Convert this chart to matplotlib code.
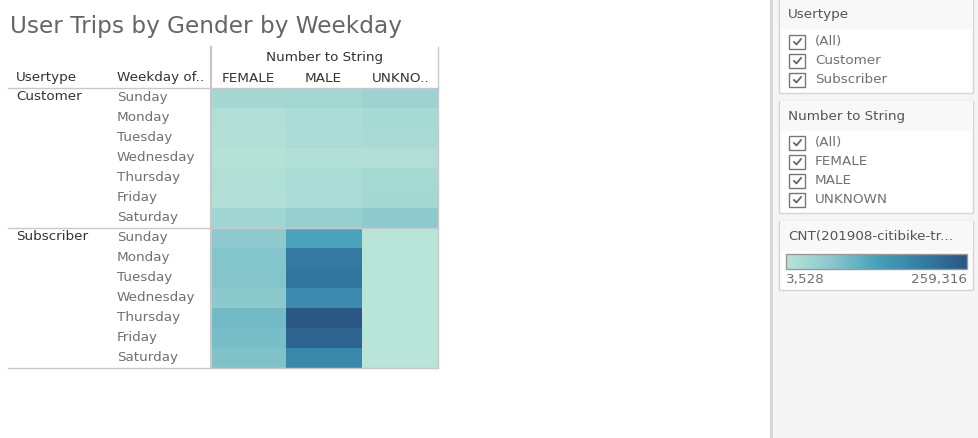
import numpy as np
import matplotlib
matplotlib.use("Agg")
import matplotlib.pyplot as plt
from matplotlib.colors import LinearSegmentedColormap
from matplotlib.patches import Rectangle

plt.rcParams['font.family'] = ['DejaVu Sans']

usertypes = ['Customer', 'Subscriber']
weekdays = ['Sunday', 'Monday', 'Tuesday', 'Wednesday', 'Thursday', 'Friday', 'Saturday']
genders = ['FEMALE', 'MALE', 'UNKNO..']

# trip counts
customer_female = [30000, 15000, 12000, 9000, 16000, 13000, 38000]
customer_male = [32000, 22000, 22000, 13000, 24000, 22000, 50000]
customer_unknown = [42000, 26000, 25000, 14000, 28000, 31000, 62000]
subscriber_female = [58000, 72000, 72000, 63000, 90000, 84000, 76000]
subscriber_male = [128000, 202000, 208000, 172000, 259316, 236000, 178000]
subscriber_unknown = [3528, 3600, 3700, 3600, 4200, 4000, 3600]

count_min = 3528
count_max = 259316
legend_labels = ['3,528', '259,316']
filter_usertype = ['(All)', 'Customer', 'Subscriber']
filter_gender = ['(All)', 'FEMALE', 'MALE', 'UNKNOWN']

cmap = LinearSegmentedColormap.from_list(
    'teal', [(0, '#b9e4d8'), (0.25, '#88c7cc'), (0.5, '#46a2bb'),
             (0.75, '#337ea5'), (1, '#2b5784')])

grey = '#c8c8c8'
dark = '#333333'
mid = '#707070'
fs = 9.7

fig = plt.figure(figsize=(9.79, 4.38), dpi=100, facecolor='white')
ax = fig.add_axes([0, 0, 1, 1])
ax.set_xlim(0, 979)
ax.set_ylim(438, 0)
ax.axis('off')

# heatmap
matrix = np.array([customer_female, customer_male, customer_unknown,
                   subscriber_female, subscriber_male, subscriber_unknown], dtype=float)
matrix = np.vstack([matrix[:3].T, matrix[3:].T])
x_edges = [212, 286, 362, 438]
y_edges = 88 + 20 * np.arange(15)
ax.pcolormesh(x_edges, y_edges, matrix, cmap=cmap, vmin=count_min, vmax=count_max, zorder=1)

# table lines
ax.plot([8, 438], [87.5, 87.5], color=grey, lw=1, zorder=2)
ax.plot([8, 438], [227.5, 227.5], color=grey, lw=1, zorder=2)
ax.plot([8, 438], [367.5, 367.5], color=grey, lw=1, zorder=2)
ax.plot([211, 211], [47, 368], color=grey, lw=1.6, zorder=2)
ax.plot([438.5, 438.5], [47, 368], color=grey, lw=1, zorder=2)

# title and headers
ax.text(10, 26, 'User Trips by Gender by Weekday', fontsize=16.7, color='#666666',
        va='center', ha='left')
ax.text(325, 58, 'Number to String', fontsize=fs, color=dark, va='center', ha='center')
ax.text(16, 78, 'Usertype', fontsize=fs, color=dark, va='center')
ax.text(117, 78, 'Weekday of..', fontsize=fs, color=dark, va='center')
for i, g in enumerate(genders):
    ax.text((x_edges[i] + x_edges[i + 1]) / 2 + (-1 if i < 2 else 1), 78, g, fontsize=fs,
            color=dark, va='center', ha='center')

for k, u in enumerate(usertypes):
    ax.text(16, 97 + 140 * k, u, fontsize=fs, color=dark, va='center')
    for j, d in enumerate(weekdays):
        ax.text(117, 98 + 140 * k + 20 * j, d, fontsize=fs, color=mid, va='center')

# side panel
ax.add_patch(Rectangle((771, 0), 208, 438, facecolor='#f5f5f5', edgecolor='none', zorder=0))
ax.plot([771, 771], [0, 438], color='#d4d4d4', lw=2, zorder=1)


def draw_box(top, bottom, head_bottom, title):
    ax.add_patch(Rectangle((779.5, top), 194, bottom - top, facecolor='white',
                           edgecolor='#d4d4d4', lw=1, zorder=1))
    ax.add_patch(Rectangle((780, top + 0.5), 193, head_bottom - top, facecolor='#f8f8f8',
                           edgecolor='none', zorder=1))
    ax.text(788, (top + head_bottom) / 2 + 1, title, fontsize=fs, color='#555555', va='center', zorder=3)


def draw_checks(items, first_y):
    for n, item in enumerate(items):
        y = first_y + 19 * n
        ax.add_patch(Rectangle((789, y - 6.5), 16.5, 13.5, facecolor='white', edgecolor='#777777',
                               lw=1, zorder=3))
        ax.plot([794, 796.5, 801], [y + 0.5, y + 3, y - 2.5], color='#666666', lw=1.3, zorder=4)
        ax.text(815, y, item, fontsize=fs, color=mid, va='center', zorder=3)


draw_box(-2, 93, 29, 'Usertype')
draw_checks(filter_usertype, 41.5)
draw_box(100.5, 213, 130, 'Number to String')
draw_checks(filter_gender, 142.5)
draw_box(220.5, 290, 250, 'CNT(201908-citibike-tr...')

# legend ramp
ramp = np.linspace(count_min, count_max, 256).reshape(1, -1)
ax.imshow(ramp, cmap=cmap, vmin=count_min, vmax=count_max, extent=(787, 967, 269, 254),
          aspect='auto', zorder=3)
ax.add_patch(Rectangle((786.5, 254), 181, 15, facecolor='none', edgecolor='#999999', lw=1, zorder=4))
ax.set_xlim(0, 979)
ax.set_ylim(438, 0)
ax.text(786, 279.5, legend_labels[0], fontsize=fs, color=mid, va='center', zorder=3)
ax.text(967, 279.5, legend_labels[1], fontsize=fs, color=mid, va='center', ha='right', zorder=3)

fig.savefig('out.png', dpi=100)
